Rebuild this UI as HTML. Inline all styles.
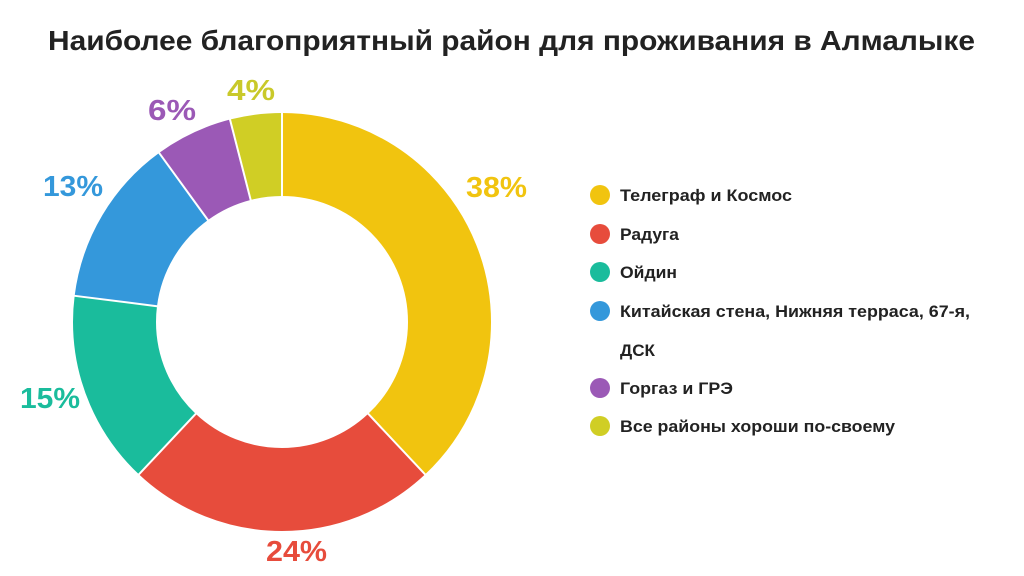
<!DOCTYPE html>
<html><head><meta charset="utf-8"><style>
html,body{margin:0;padding:0;background:#fff;}
svg{display:block;}
text{font-family:"Liberation Sans","DejaVu Sans",sans-serif;font-weight:bold;}
</style></head><body>
<svg width="1024" height="576" viewBox="0 0 1024 576" xmlns="http://www.w3.org/2000/svg">
<rect width="1024" height="576" fill="#fff"/>
<text x="48" y="50" font-size="28" fill="#222" textLength="927" lengthAdjust="spacingAndGlyphs">Наиболее благоприятный район для проживания в Алмалыке</text>
<g transform="rotate(-90 282 322)" fill="none" stroke-width="83">
<circle cx="282" cy="322" r="167.5" stroke="#F1C40F" stroke-dasharray="399.9 1052.4" stroke-dashoffset="0"/>
<circle cx="282" cy="322" r="167.5" stroke="#E74C3C" stroke-dasharray="252.6 1052.4" stroke-dashoffset="-399.9"/>
<circle cx="282" cy="322" r="167.5" stroke="#1ABC9C" stroke-dasharray="157.9 1052.4" stroke-dashoffset="-652.5"/>
<circle cx="282" cy="322" r="167.5" stroke="#3498DB" stroke-dasharray="136.8 1052.4" stroke-dashoffset="-810.4"/>
<circle cx="282" cy="322" r="167.5" stroke="#9B59B6" stroke-dasharray="63.1 1052.4" stroke-dashoffset="-947.2"/>
<circle cx="282" cy="322" r="167.5" stroke="#D0CE25" stroke-dasharray="42.3 1052.4" stroke-dashoffset="-1010.3"/>
</g>
<g stroke="#fff" stroke-width="2">
<line x1="282" y1="197" x2="282" y2="111"/>
<line x1="282" y1="197" x2="282" y2="111" transform="rotate(136.8 282 322)"/>
<line x1="282" y1="197" x2="282" y2="111" transform="rotate(223.2 282 322)"/>
<line x1="282" y1="197" x2="282" y2="111" transform="rotate(277.2 282 322)"/>
<line x1="282" y1="197" x2="282" y2="111" transform="rotate(324 282 322)"/>
<line x1="282" y1="197" x2="282" y2="111" transform="rotate(345.6 282 322)"/>
</g>
<g font-size="29">
<text x="466" y="197" fill="#F1C40F" textLength="61" lengthAdjust="spacingAndGlyphs">38%</text>
<text x="266" y="561" fill="#E74C3C" textLength="61" lengthAdjust="spacingAndGlyphs">24%</text>
<text x="20" y="408" fill="#1ABC9C" textLength="60" lengthAdjust="spacingAndGlyphs">15%</text>
<text x="43" y="196" fill="#3498DB" textLength="60" lengthAdjust="spacingAndGlyphs">13%</text>
<text x="148" y="120" fill="#9B59B6" textLength="48" lengthAdjust="spacingAndGlyphs">6%</text>
<text x="227" y="100" fill="#C9C92A" textLength="48" lengthAdjust="spacingAndGlyphs">4%</text>
</g>
<g font-size="17" fill="#222">
<circle cx="600" cy="195" r="10" fill="#F1C40F"/>
<text x="620" y="201" textLength="172" lengthAdjust="spacingAndGlyphs">Телеграф и Космос</text>
<circle cx="600" cy="234" r="10" fill="#E74C3C"/>
<text x="620" y="240" textLength="59" lengthAdjust="spacingAndGlyphs">Радуга</text>
<circle cx="600" cy="272" r="10" fill="#1ABC9C"/>
<text x="620" y="278" textLength="57" lengthAdjust="spacingAndGlyphs">Ойдин</text>
<circle cx="600" cy="311" r="10" fill="#3498DB"/>
<text x="620" y="317" textLength="350" lengthAdjust="spacingAndGlyphs">Китайская стена, Нижняя терраса, 67-я,</text>
<text x="620" y="356" textLength="35" lengthAdjust="spacingAndGlyphs">ДСК</text>
<circle cx="600" cy="388" r="10" fill="#9B59B6"/>
<text x="620" y="394" textLength="113" lengthAdjust="spacingAndGlyphs">Горгаз и ГРЭ</text>
<circle cx="600" cy="426" r="10" fill="#D0CE25"/>
<text x="620" y="432" textLength="275" lengthAdjust="spacingAndGlyphs">Все районы хороши по-своему</text>
</g>
</svg>
</body></html>
